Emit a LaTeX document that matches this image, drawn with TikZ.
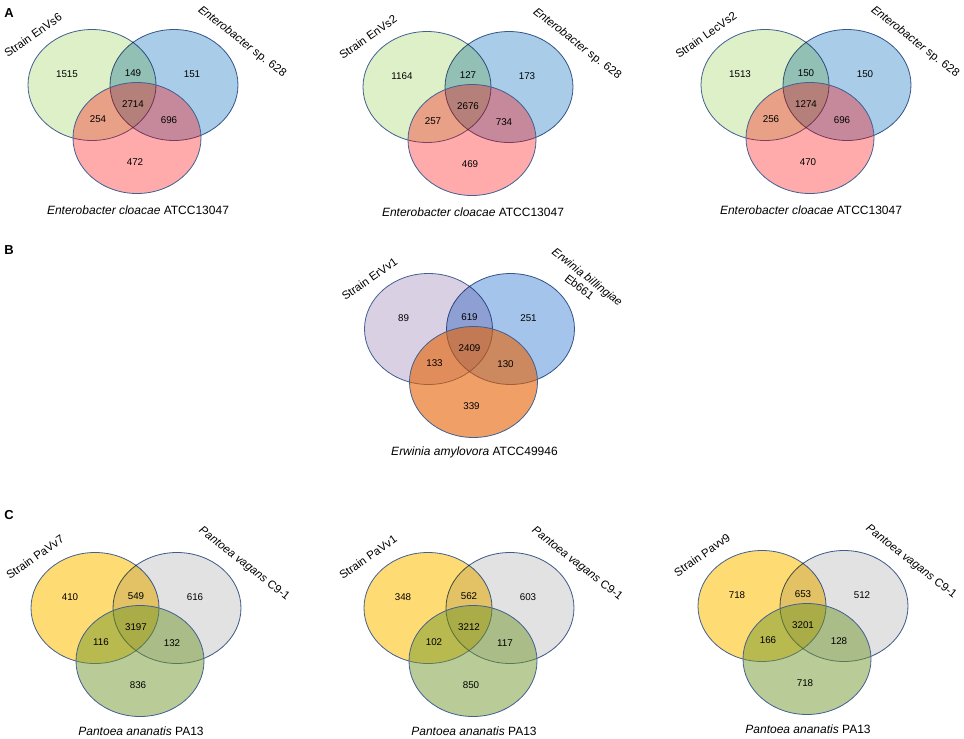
\documentclass[tikz,border=0pt]{standalone}
\usepackage{fontspec}
\setmainfont{Liberation Sans}
\usepackage{tikz}
\usetikzlibrary{calc}

\definecolor{ringcol}{RGB}{65,95,145}
\definecolor{aGreen}{RGB}{221,240,200}
\definecolor{aBlue}{RGB}{169,205,232}
\definecolor{aRed}{RGB}{255,0,0}
\definecolor{bPurple}{RGB}{218,208,228}
\definecolor{bBlue}{RGB}{165,196,236}
\definecolor{bOrange}{RGB}{230,97,0}
\definecolor{cYellow}{RGB}{255,220,115}
\definecolor{cGrey}{RGB}{226,226,226}
\definecolor{cOlive}{RGB}{115,151,45}

\tikzset{
  ring/.style={draw=ringcol, line width=0.8pt},
  num/.style={font=\fontsize{9.8}{11}\selectfont, inner sep=0pt},
  lab/.style={font=\fontsize{11.5}{13}\selectfont, inner sep=0pt, align=center},
  foot/.style={font=\fontsize{12}{14}\selectfont, inner sep=0pt},
  panel/.style={font=\fontsize{13}{15}\selectfont\bfseries, inner sep=0pt},
  colsA/.style={lfill/.style={fill=aGreen}, rfill/.style={fill=aBlue},
    bfill/.style={fill=aRed, fill opacity=0.33}},
  colsB/.style={lfill/.style={fill=bPurple}, rfill/.style={fill=bBlue},
    bfill/.style={fill=bOrange, fill opacity=0.6}},
  colsC/.style={lfill/.style={fill=cYellow}, rfill/.style={fill=cGrey},
    bfill/.style={fill=cOlive, fill opacity=0.5}}
}

% three sets and the seven counts
\newcommand{\venn}[8]{%
  \draw[ring,lfill] (0,0) ellipse [x radius=64pt, y radius=55.5pt];
  \begin{scope}[blend mode=multiply]
    \draw[ring,rfill] (82,0) ellipse [x radius=64pt, y radius=55.5pt];
  \end{scope}
  \draw[ring,bfill] (45,53) ellipse [x radius=64pt, y radius=55.5pt];
  \node[num] (#1-l)  at (-25,-11) {#2};
  \node[num] (#1-lr) at (41,-12) {#3};
  \node[num] (#1-r)  at (100,-11) {#4};
  \node[num] (#1-c)  at (41,19) {#5};
  \node[num] (#1-lb) at (6,34) {#6};
  \node[num] (#1-rb) at (77,35) {#7};
  \node[num] (#1-b)  at (43,77) {#8};
}

\begin{document}
\begin{tikzpicture}[x=1pt,y=-1pt]
  \useasboundingbox (0,0) rectangle (964,739);

  \node[panel] (A) at (9,13) {A};
  \node[panel] (B) at (9,250) {B};
  \node[panel] (C) at (9,515) {C};

  % A
  \begin{scope}[shift={(92,85)},colsA]
    \venn{a1}{1515}{149}{151}{2714}{254}{696}{472}
    \node[lab,rotate=35] (a1-s) at (-59,-50) {Strain EnVs6};
    \node[lab,rotate=-38] (a1-e) at (150,-43) {\textit{Enterobacter} sp. 628};
    \node[foot] (a1-x) at (46,125) {\textit{Enterobacter cloacae} ATCC13047};
  \end{scope}
  \begin{scope}[shift={(427,87)},colsA]
    \venn{a2}{1164}{127}{173}{2676}{257}{734}{469}
    \node[lab,rotate=35] (a2-s) at (-59,-50) {Strain EnVs2};
    \node[lab,rotate=-38] (a2-e) at (150,-43) {\textit{Enterobacter} sp. 628};
    \node[foot] (a2-x) at (46,125) {\textit{Enterobacter cloacae} ATCC13047};
  \end{scope}
  \begin{scope}[shift={(765,85)},colsA]
    \venn{a3}{1513}{150}{150}{1274}{256}{696}{470}
    \node[lab,rotate=35] (a3-s) at (-59,-50) {Strain LecVs2};
    \node[lab,rotate=-38] (a3-e) at (150,-43) {\textit{Enterobacter} sp. 628};
    \node[foot] (a3-x) at (46,125) {\textit{Enterobacter cloacae} ATCC13047};
  \end{scope}

  % B
  \begin{scope}[shift={(428.5,329)},colsB]
    \venn{b1}{89}{619}{251}{2409}{133}{130}{339}
    \node[lab,rotate=35] (b1-s) at (-59,-50) {Strain ErVv1};
    \node[lab,rotate=-38] (b1-e) at (155,-47) {\textit{Erwinia billingiae}\\Eb661};
    \node[foot] (b1-x) at (46,123) {\textit{Erwinia amylovora} ATCC49946};
  \end{scope}

  % C
  \begin{scope}[shift={(95,608)},colsC]
    \venn{c1}{410}{549}{616}{3197}{116}{132}{836}
    \node[lab,rotate=35] (c1-s) at (-60,-51) {Strain PaVv7};
    \node[lab,rotate=-38] (c1-e) at (149,-44) {\textit{Pantoea vagans} C9-1};
    \node[foot] (c1-x) at (46,123) {\textit{Pantoea ananatis} PA13};
  \end{scope}
  \begin{scope}[shift={(428,608)},colsC]
    \venn{c2}{348}{562}{603}{3212}{102}{117}{850}
    \node[lab,rotate=35] (c2-s) at (-60,-51) {Strain PaVv1};
    \node[lab,rotate=-38] (c2-e) at (149,-44) {\textit{Pantoea vagans} C9-1};
    \node[foot] (c2-x) at (46,123) {\textit{Pantoea ananatis} PA13};
  \end{scope}
  \begin{scope}[shift={(762,606)},colsC]
    \venn{c3}{718}{653}{512}{3201}{166}{128}{718}
    \node[lab,rotate=35] (c3-s) at (-60,-51) {Strain Pavv9};
    \node[lab,rotate=-38] (c3-e) at (149,-44) {\textit{Pantoea vagans} C9-1};
    \node[foot] (c3-x) at (46,123) {\textit{Pantoea ananatis} PA13};
  \end{scope}
\end{tikzpicture}
\end{document}
